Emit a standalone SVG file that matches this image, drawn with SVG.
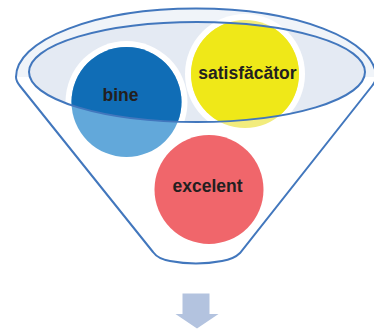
<svg xmlns="http://www.w3.org/2000/svg" width="374" height="329" viewBox="0 0 374 329">
<style>
.lbl{font-family:"Liberation Sans",Arial,sans-serif;font-weight:bold;font-size:17.5px;fill:#231F20;text-anchor:middle}
.rim{fill:none;stroke:#4277BD;stroke-width:2}
.halo{fill:#FFFFFF}
</style>
<defs>
<clipPath id="inner"><ellipse cx="197" cy="72" rx="168" ry="50"/></clipPath>
</defs>
<rect width="374" height="329" fill="#FFFFFF"/>
<g id="funnel">
<path d="M16 77 A180 68.5 0 0 1 376 77 Z" fill="#F0F4F9"/>
<ellipse cx="197" cy="72" rx="168" ry="50" fill="#E4EAF3"/>
<path class="rim" d="M153 252 L20 86 Q16 81 16 77 A180 68.5 0 0 1 376 77 Q376 81 372 86 L240 253 Q234 259 222 261 Q196 266 170 261 Q158 259 153 252 Z"/>
</g>
<g id="node-bine">
<circle class="halo" cx="126.5" cy="102" r="61"/>
<circle cx="126.5" cy="102" r="55" fill="#62A8DA"/>
<circle cx="126.5" cy="102" r="55" fill="#106DB6" clip-path="url(#inner)"/>
</g>
<g id="node-satisfacator">
<circle class="halo" cx="245" cy="74" r="60"/>
<circle cx="245" cy="74" r="54" fill="#F2EC7C"/>
<circle cx="245" cy="74" r="54" fill="#EFE818" clip-path="url(#inner)"/>
</g>
<g id="node-excelent">
<circle cx="209" cy="189.5" r="54.5" fill="#F0666B"/>
</g>
<ellipse class="rim" cx="197" cy="72" rx="168" ry="50"/>
<text class="lbl" x="120.5" y="100.5">bine</text>
<text class="lbl" x="247.4" y="79">satisfăcător</text>
<text class="lbl" x="207.5" y="191.5">excelent</text>
<g id="connectors">
<path d="M182.5 293.5 H209.5 V314 H218.5 L197 328.5 L175.5 314 H182.5 Z" fill="#B3C3DF"/>
</g>
</svg>
